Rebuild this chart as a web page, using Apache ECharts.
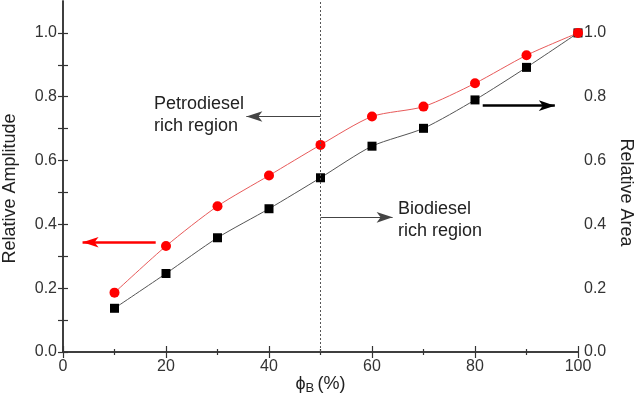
<!DOCTYPE html>
<html>
<head>
<meta charset="utf-8">
<script src="https://cdn.jsdelivr.net/npm/echarts@6/dist/echarts.min.js"></script>
<style>
  html, body { margin: 0; padding: 0; background: #fff; }
  #chart { width: 635px; height: 401px; }
</style>
</head>
<body>
<div id="chart"></div>
<script>
// data
var phiB = [10, 20, 30, 40, 50, 60, 70, 80, 90, 100];
var amplitude = [0.186, 0.332, 0.457, 0.553, 0.649, 0.738, 0.769, 0.842, 0.930, 1.0];
var area = [0.137, 0.246, 0.358, 0.449, 0.546, 0.645, 0.701, 0.790, 0.892, 1.0];
var yLabels = [0, 0.2, 0.4, 0.6, 0.8, 1.0];
var yTicks = [0, 0.1, 0.2, 0.3, 0.4, 0.5, 0.6, 0.7, 0.8, 0.9, 1.0];

var font = 'Liberation Sans, Arial, sans-serif';
var axisColor = '#333';

function pairs(xs, ys) {
  return xs.map(function (x, i) { return [x, ys[i]]; });
}

var chart = echarts.init(document.getElementById('chart'));

function yAxisBase(pos) {
  return {
    type: 'value',
    position: pos,
    min: 0,
    max: 1.1,
    axisLine: { show: true, lineStyle: { color: axisColor, width: 1.5 } },
    axisTick: { show: true, inside: true, length: 5, customValues: yTicks, lineStyle: { color: axisColor, width: 1.2 } },
    axisLabel: {
      customValues: yLabels,
      fontSize: 16, color: '#333', fontFamily: font, margin: 6,
      formatter: function (v) { return v.toFixed(1); }
    },
    splitLine: { show: false }
  };
}

var left = yAxisBase('left');
left.name = 'Relative Amplitude';
left.nameLocation = 'middle';
left.nameGap = 44;
left.nameRotate = 90;
left.nameTextStyle = { fontSize: 18, color: '#222', fontFamily: font, padding: [0, 24, 0, 0] };

var right = yAxisBase('right');
right.name = 'Relative Area';
right.nameLocation = 'middle';
right.nameGap = 33;
right.nameRotate = -90;
right.nameTextStyle = { fontSize: 18, color: '#222', fontFamily: font, padding: [0, 0, 0, 32] };

// thin annotation arrows and the bold axis-pointing arrows
var thin = { color: '#444', width: 1, type: 'solid' };

var option = {
  animation: false,
  backgroundColor: '#fff',
  grid: { left: 63, right: 57, top: 1, bottom: 49, outerBoundsMode: 'none', containLabel: false },
  xAxis: [{
    type: 'value',
    min: 0, max: 100, interval: 20,
    name: '{p|ϕ}{s|B} {p|(%)}',
    nameLocation: 'middle',
    nameGap: 22,
    nameMoveOverlap: false,
    nameTextStyle: {
      rich: {
        p: { fontSize: 18, color: '#222', fontFamily: font },
        s: { fontSize: 13, color: '#222', fontFamily: font, padding: [8, 0, 0, 0] }
      }
    },
    axisLine: { lineStyle: { color: axisColor, width: 1.5 } },
    axisTick: { inside: true, length: 6, lineStyle: { color: axisColor, width: 1.2 } },
    minorTick: { show: true, splitNumber: 2, length: 3, lineStyle: { color: axisColor, width: 1.2 } },
    axisLabel: { fontSize: 16, color: '#333', fontFamily: font, margin: 7 },
    splitLine: { show: false }
  }, {
    type: 'value',
    position: 'top',
    min: 0, max: 100, interval: 20,
    axisLine: { show: true, lineStyle: { color: axisColor, width: 1.5 } },
    axisTick: { show: true, inside: true, length: 6, lineStyle: { color: axisColor, width: 1.2 } },
    minorTick: { show: true, splitNumber: 2, length: 3, lineStyle: { color: axisColor, width: 1.2 } },
    axisLabel: { show: false },
    splitLine: { show: false }
  }],
  yAxis: [left, right],
  series: [{
    name: 'Relative Area',
    type: 'line',
    yAxisIndex: 1,
    data: pairs(phiB, area),
    smooth: 0.25,
    symbol: 'rect',
    symbolSize: 9,
    itemStyle: { color: '#000' },
    lineStyle: { color: '#555', width: 1 },
    markLine: {
      silent: true,
      symbol: 'none',
      label: { show: false },
      lineStyle: { color: '#555', width: 1, type: [2, 2] },
      data: [{ xAxis: 50 }]
    }
  }, {
    name: 'Relative Amplitude',
    type: 'line',
    yAxisIndex: 0,
    data: pairs(phiB, amplitude),
    smooth: 0.25,
    symbol: 'circle',
    symbolSize: 10,
    itemStyle: { color: '#f00' },
    lineStyle: { color: '#e85a5a', width: 1 },
    markLine: {
      silent: true,
      symbol: ['none', 'arrow'],
      label: { show: false },
      lineStyle: { type: 'solid' },
      data: [
        [{ coord: [50, 0.738], lineStyle: thin, symbolSize: [6, 9] }, { coord: [35.6, 0.738] }],
        [{ coord: [50, 0.422], lineStyle: thin, symbolSize: [6, 9] }, { coord: [64, 0.422] }],
        [{ coord: [18, 0.344], lineStyle: { color: '#f00', width: 2.5, type: 'solid' }, symbolSize: [12, 14] }, { coord: [3.8, 0.344] }],
        [{ coord: [81.5, 0.772], lineStyle: { color: '#000', width: 2.5, type: 'solid' }, symbolSize: [12, 14] }, { coord: [95.5, 0.772] }]
      ]
    }
  }],
  graphic: [{
    type: 'text', left: 154, top: 93,
    style: { text: 'Petrodiesel\nrich region', fontSize: 18, lineHeight: 22, fill: '#222', fontFamily: font }
  }, {
    type: 'text', left: 398, top: 198,
    style: { text: 'Biodiesel\nrich region', fontSize: 18, lineHeight: 22, fill: '#222', fontFamily: font }
  }]
};

chart.setOption(option);
</script>
</body>
</html>
